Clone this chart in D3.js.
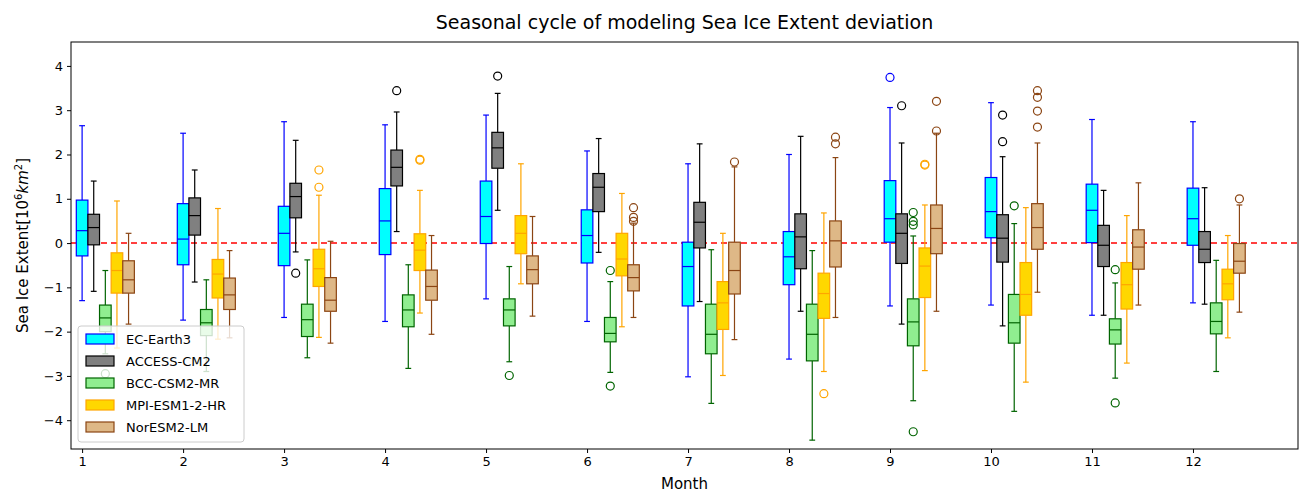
<!DOCTYPE html>
<html><head><meta charset="utf-8">
<script src="https://cdn.jsdelivr.net/npm/d3@7"></script>
<style>body{margin:0;background:#fff}text{font-family:"DejaVu Sans",sans-serif}</style>
</head><body>
<script>
var months = [1,2,3,4,5,6,7,8,9,10,11,12];
var models = ["EC-Earth3","ACCESS-CM2","BCC-CSM2-MR","MPI-ESM1-2-HR","NorESM2-LM"];
var fills  = ["#00ffff","#808080","#90ee90","#ffd700","#deb887"];
var edges  = ["#0000ff","#000000","#006400","#ffa500","#8b4513"];
var yTicks = [-4,-3,-2,-1,0,1,2,3,4];

// each entry per month: [low whisker, q1, median, q3, high whisker]
var ecEarth = [[-1.3,-0.29,0.28,0.97,2.65],[-1.74,-0.49,0.09,0.89,2.48],[-1.68,-0.51,0.22,0.83,2.74],[-1.77,-0.26,0.5,1.23,2.67],[-1.26,-0.01,0.6,1.4,2.89],[-1.77,-0.45,0.17,0.75,2.08],[-3.02,-1.42,-0.53,0.02,1.79],[-2.62,-0.94,-0.31,0.26,2.0],[-1.42,0.02,0.55,1.41,3.06],[-1.4,0.12,0.71,1.48,3.17],[-1.63,0.01,0.74,1.33,2.79],[-1.35,-0.05,0.55,1.24,2.74]];
var access  = [[-1.09,-0.04,0.35,0.65,1.4],[-0.88,0.18,0.62,1.02,1.65],[-0.2,0.57,1.05,1.35,2.32],[0.26,1.29,1.71,2.1,2.96],[0.74,1.69,2.15,2.5,3.38],[-0.21,0.71,1.26,1.57,2.36],[-1.32,-0.11,0.47,0.92,2.24],[-1.54,-0.58,0.14,0.66,2.41],[-1.83,-0.46,0.22,0.66,2.26],[-1.87,-0.43,0.11,0.64,1.95],[-1.63,-0.53,-0.05,0.4,1.19],[-1.38,-0.44,-0.14,0.26,1.25]];
var bcc     = [[-2.5,-2.0,-1.69,-1.4,-0.62],[-2.9,-2.09,-1.8,-1.5,-0.83],[-2.59,-2.11,-1.73,-1.38,-0.38],[-2.83,-1.89,-1.51,-1.17,-0.49],[-2.68,-1.87,-1.51,-1.26,-0.53],[-2.92,-2.23,-2.04,-1.68,-0.87],[-3.62,-2.5,-2.06,-1.38,-0.15],[-4.45,-2.66,-2.06,-1.38,-0.17],[-3.56,-2.32,-1.78,-1.26,0.16],[-3.8,-2.26,-1.8,-1.16,0.44],[-3.05,-2.28,-1.96,-1.71,-0.9],[-2.9,-2.05,-1.77,-1.35,-0.39]];
var mpi     = [[-2.37,-1.13,-0.62,-0.22,0.95],[-2.17,-1.24,-0.7,-0.37,0.78],[-2.13,-0.98,-0.58,-0.14,1.08],[-1.58,-0.62,-0.16,0.21,1.19],[-0.92,-0.24,0.22,0.62,1.79],[-1.89,-0.74,-0.36,0.22,1.12],[-2.99,-1.95,-1.35,-0.87,0.22],[-2.9,-1.7,-1.14,-0.68,0.68],[-2.88,-1.23,-0.52,-0.11,0.86],[-3.14,-1.63,-1.16,-0.44,0.8],[-2.71,-1.49,-0.94,-0.44,0.62],[-2.14,-1.28,-0.92,-0.59,0.17]];
var nor     = [[-1.83,-1.13,-0.83,-0.4,0.22],[-2.14,-1.5,-1.17,-0.79,-0.17],[-2.26,-1.54,-1.29,-0.78,0.04],[-2.06,-1.29,-0.98,-0.61,0.17],[-1.65,-0.92,-0.6,-0.29,0.6],[-1.68,-1.08,-0.78,-0.49,0.45],[-2.18,-1.15,-0.62,0.02,1.72],[-1.68,-0.54,0.05,0.5,1.93],[-1.54,-0.24,0.33,0.86,2.48],[-1.11,-0.14,0.35,0.89,2.26],[-1.4,-0.59,-0.09,0.3,1.36],[-1.56,-0.68,-0.41,-0.01,0.86]];
var stats = [ecEarth, access, bcc, mpi, nor];

// outliers: [model index, month, value]
var fliers = [[2,1,-2.95],[1,3,-0.68],[3,3,1.65],[3,3,1.26],[1,4,3.44],[3,4,1.89],[3,4,1.87],[1,5,3.77],[2,5,-2.99],
  [2,6,-0.62],[2,6,-3.23],[4,6,0.8],[4,6,0.58],[4,6,0.49],[4,7,1.83],[3,8,-3.4],[4,8,2.39],[4,8,2.24],
  [0,9,3.74],[1,9,3.1],[2,9,0.69],[2,9,0.49],[2,9,0.41],[2,9,-4.26],[3,9,1.78],[3,9,1.76],[4,9,3.2],[4,9,2.53],
  [1,10,2.89],[1,10,2.29],[2,10,0.84],[4,10,3.44],[4,10,3.29],[4,10,2.98],[4,10,2.62],[2,11,-0.6],[2,11,-3.61],[4,12,1.0]];

var W = 1299, H = 493;
var m = {left: 71, right: 1298, top: 42, bottom: 449};
var svg = d3.select("body").append("svg").attr("width", W).attr("height", H);

var x = d3.scaleLinear().domain([0.89, 13.04]).range([m.left, m.right]);
var y = d3.scaleLinear().domain([-4.65, 4.54]).range([m.bottom, m.top]);
var step = 0.115, bw = 0.115;

svg.append("line").attr("x1", m.left).attr("x2", m.right).attr("y1", y(0)).attr("y2", y(0))
  .attr("stroke", "#ff0000").attr("stroke-width", 1.6).attr("stroke-dasharray", "6,4");

stats.forEach(function(series, k){
  var g = svg.append("g");
  series.forEach(function(s, i){
    var cx = x(months[i] + k * step), half = (x(bw) - x(0)) / 2;
    var c = edges[k];
    g.append("line").attr("x1", cx).attr("x2", cx).attr("y1", y(s[0])).attr("y2", y(s[1])).attr("stroke", c).attr("stroke-width", 1.2);
    g.append("line").attr("x1", cx).attr("x2", cx).attr("y1", y(s[3])).attr("y2", y(s[4])).attr("stroke", c).attr("stroke-width", 1.2);
    [s[0], s[4]].forEach(function(v){
      g.append("line").attr("x1", cx - half/2).attr("x2", cx + half/2).attr("y1", y(v)).attr("y2", y(v)).attr("stroke", c).attr("stroke-width", 1.2);
    });
    g.append("rect").attr("x", cx - half).attr("width", 2*half).attr("y", y(s[3])).attr("height", y(s[1]) - y(s[3]))
      .attr("fill", fills[k]).attr("stroke", c).attr("stroke-width", 1.2);
    g.append("line").attr("x1", cx - half).attr("x2", cx + half).attr("y1", y(s[2])).attr("y2", y(s[2])).attr("stroke", c).attr("stroke-width", 1.2);
  });
});

svg.selectAll("circle.flier").data(fliers).enter().append("circle").attr("class", "flier")
  .attr("cx", function(d){ return x(d[1] + d[0] * step); })
  .attr("cy", function(d){ return y(d[2]); })
  .attr("r", 4).attr("fill", "none").attr("stroke", function(d){ return edges[d[0]]; }).attr("stroke-width", 1.2);

// frame and axes
svg.append("rect").attr("x", m.left).attr("y", m.top).attr("width", m.right - m.left).attr("height", m.bottom - m.top)
  .attr("fill", "none").attr("stroke", "#000").attr("stroke-width", 1);
var xa = svg.append("g").attr("transform", "translate(0," + m.bottom + ")")
  .call(d3.axisBottom(x).tickValues(months).tickSize(4).tickPadding(4).tickFormat(d3.format("d")));
var ya = svg.append("g").attr("transform", "translate(" + m.left + ",0)")
  .call(d3.axisLeft(y).tickValues(yTicks).tickSize(4).tickPadding(4).tickFormat(function(d){ return d < 0 ? "\u2212" + (-d) : d; }));
[xa, ya].forEach(function(a){
  a.select(".domain").remove();
  a.selectAll("text").attr("font-size", 13).attr("fill", "#000");
});

svg.append("text").attr("x", (m.left + m.right) / 2).attr("y", 29).attr("text-anchor", "middle").attr("font-size", 19)
  .text("Seasonal cycle of modeling Sea Ice Extent deviation");
svg.append("text").attr("x", (m.left + m.right) / 2).attr("y", 489).attr("text-anchor", "middle").attr("font-size", 15).text("Month");
var yl = svg.append("text").attr("transform", "translate(28," + ((m.top + m.bottom) / 2) + ") rotate(-90)")
  .attr("text-anchor", "middle").attr("font-size", 15);
yl.append("tspan").text("Sea Ice Extent[10");
yl.append("tspan").attr("font-size", 10).attr("dy", -6).text("6");
yl.append("tspan").attr("dy", 6).attr("font-style", "italic").text("km");
yl.append("tspan").attr("font-size", 10).attr("dy", -6).text("2");
yl.append("tspan").attr("dy", 6).text("]");

// legend
var lg = svg.append("g").attr("transform", "translate(78,326)");
lg.append("rect").attr("width", 166).attr("height", 116).attr("rx", 3).attr("fill", "#fff").attr("fill-opacity", 0.8).attr("stroke", "#ccc");
models.forEach(function(name, k){
  var r = lg.append("g").attr("transform", "translate(8," + (8 + k * 22) + ")");
  r.append("rect").attr("width", 28).attr("height", 10).attr("fill", fills[k]).attr("stroke", edges[k]).attr("stroke-width", 1.2);
  r.append("text").attr("x", 40).attr("y", 10).attr("font-size", 13).text(name);
});
</script>
</body></html>
